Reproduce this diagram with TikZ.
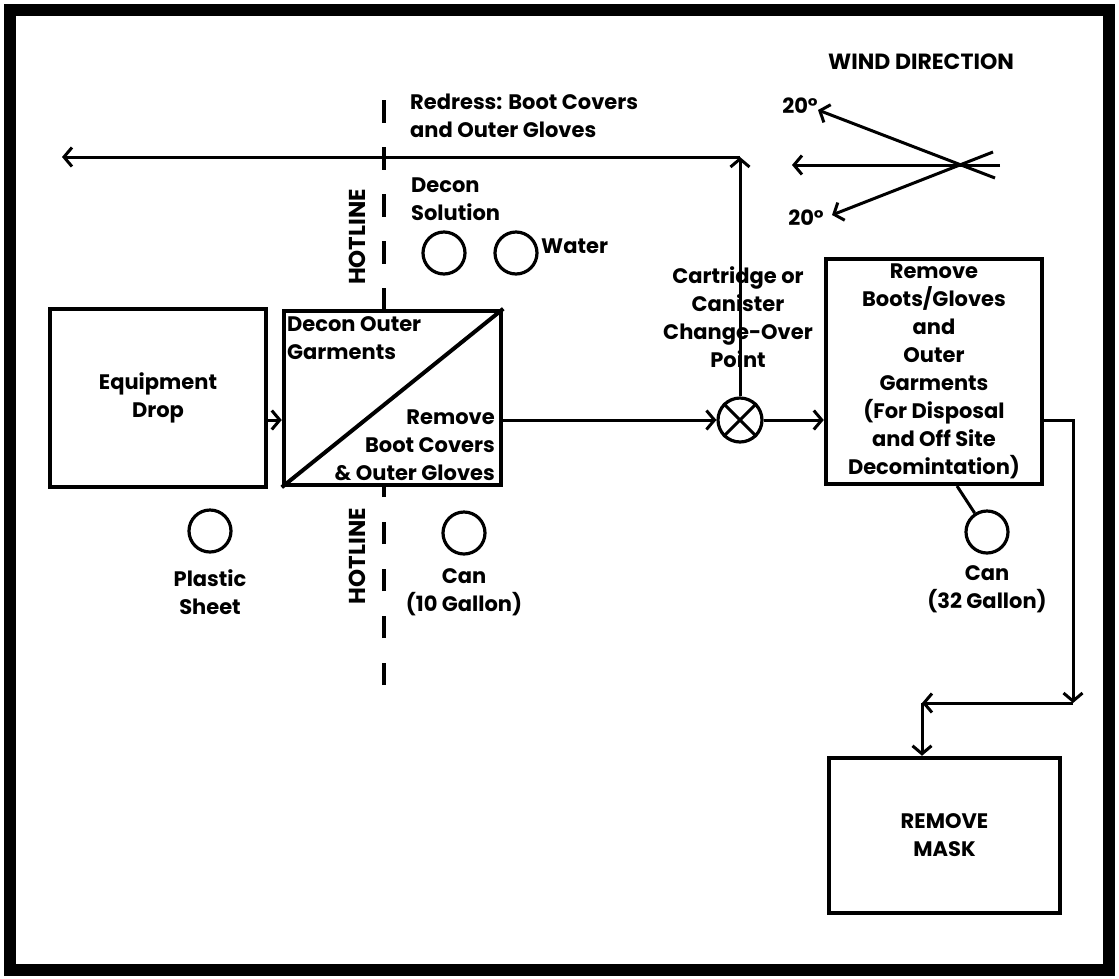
\documentclass[tikz,border=0pt]{standalone}
\usepackage{fontspec}
\setmainfont{Poppins}
\usetikzlibrary{arrows.meta}
\begin{document}
\begin{tikzpicture}[x=1pt,y=-1pt,
  every node/.style={font=\fontsize{21}{28}\selectfont\bfseries, inner sep=0pt},
  box/.style={draw, line width=4.5pt, align=center},
  conn/.style={line width=3pt},
  arr/.style={conn, -{Straight Barb[length=8pt,width=19pt]}},
  can/.style={draw, circle, line width=3.2pt, minimum size=42pt},
  lbl/.style={align=center},
  hot/.style={line width=4pt, dash pattern=on 23pt off 24pt},
  hotlbl/.style={rotate=90, font=\fontsize{23}{28}\selectfont\bfseries}
]
\useasboundingbox (0,0) rectangle (1119,978);
\draw[line width=12pt] (10,10) rectangle (1109,970);

% boxes
\node[box, minimum width=216pt, minimum height=178pt] (drop) at (158,398) {Equipment\\Drop};
\node[box, minimum width=217pt, minimum height=174pt] (decon) at (392.5,398) {};
\draw[line width=4pt] (decon.south west) -- (decon.north east);
\node[anchor=west, align=left] (dtop) at (287,338) {Decon Outer\\Garments};
\node[anchor=east, align=right] (dbot) at (495,445) {Remove\\Boot Covers\\\& Outer Gloves};
\node[box, minimum width=216pt, minimum height=225pt] (remove) at (934,371.5) {Remove\\Boots/Gloves\\and\\Outer\\Garments\\(For Disposal\\and Off Site\\Decomintation)};
\node[box, minimum width=231pt, minimum height=155pt] (mask) at (944.5,835.5) {REMOVE\\MASK};

% hotline
\coordinate (h1) at (384,100);
\coordinate (h2) at (384,311);
\coordinate (h3) at (384,685);
\coordinate (h4) at (384,486);
\draw[hot] (h1) -- (h2);
\draw[hot, dash pattern=on 22pt off 25pt] (h3) -- (h4);
\node[hotlbl] (hl1) at (357,237) {HOTLINE};
\node[hotlbl] (hl2) at (357,556) {HOTLINE};

% cans and labels
\node[can] (plastic) at (210,531) {};
\node[lbl] (plasticl) at (210,592) {Plastic\\Sheet};
\node[can] (can10) at (464,533) {};
\node[lbl] (can10l) at (464,592) {Can\\(10 Gallon)};
\node[anchor=west, align=left] (dsol) at (411,199) {Decon\\Solution};
\node[can] (dsolc) at (444,253) {};
\node[can] (waterc) at (516,253) {};
\node[anchor=west] (water) at (541,246) {Water};
\node[can] (can32) at (987,532) {};
\node[lbl] (can32l) at (987,589) {Can\\(32 Gallon)};
\coordinate (c32a) at (957,486);
\draw[conn] (c32a) -- (can32);

% change-over point
\node[draw, circle, line width=3.2pt, minimum size=44pt] (xc) at (740,420) {};
\draw[conn] (xc.north west) -- (xc.south east);
\draw[conn] (xc.north east) -- (xc.south west);
\coordinate (corner) at (740,157);
\coordinate (lend) at (62,157);
\draw[arr] (xc.north) -- (corner);
\draw[arr] (corner) -- (lend);
\node[lbl] (cart) at (738,317) {Cartridge or\\Canister\\Change-Over\\Point};
\node[anchor=west, align=left] (redress) at (410,116) {Redress: Boot Covers\\and Outer Gloves};

% flow connectors
\draw[arr] (drop.east |- xc) -- (decon.west |- xc);
\draw[arr] (decon.east |- xc) -- (xc.west);
\draw[arr] (xc.east) -- (remove.west |- xc);
\coordinate (r1) at (1073,420);
\coordinate (r2) at (1073,703);
\coordinate (r3) at (922,703);
\draw[arr] (remove.east |- xc) -- (r1) -- (r2);
\draw[arr] (r2) -- (r3);
\draw[arr] (r3) -- (r3 |- mask.north);

% wind direction
\node[font=\fontsize{22}{28}\selectfont\bfseries] (wind) at (921,62) {WIND DIRECTION};
\coordinate (w0s) at (1000,165);
\coordinate (w0e) at (792,165);
\coordinate (w1s) at (995,178);
\coordinate (w1e) at (818,110);
\coordinate (w2s) at (993,152);
\coordinate (w2e) at (832,215);
\draw[arr] (w0s) -- (w0e);
\draw[arr] (w1s) -- (w1e);
\draw[arr] (w2s) -- (w2e);
\node (deg1) at (800,106) {20°};
\node (deg2) at (806,218) {20°};
\end{tikzpicture}
\end{document}
